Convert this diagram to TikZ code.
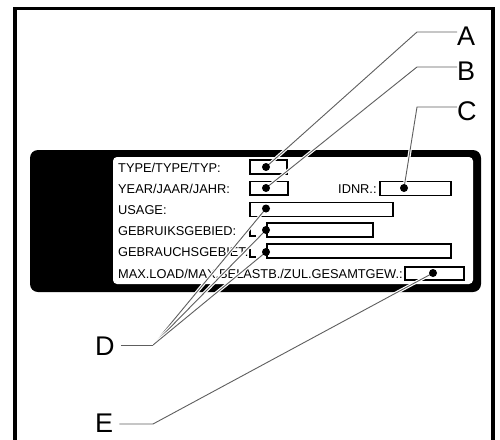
\documentclass[tikz,border=0pt]{standalone}
\usepackage{fontspec}
\setmainfont{Liberation Sans}
\usepackage{xcolor}
\definecolor{cInk}{HTML}{000000}
\definecolor{cLead}{HTML}{5E5E5E}
\usetikzlibrary{positioning,calc}
\tikzset{
  frame-line/.style={draw=cInk,line width=3.5pt},
  plate-outer/.style={fill=cInk,rounded corners=8pt},
  plate-inner/.style={fill=white,rounded corners=4pt},
  plate-text/.style={anchor=base west,inner sep=0pt,
    font=\fontsize{12.8}{14}\selectfont},
  field-box/.style={draw=cInk,line width=1.1pt},
  field-dot/.style={circle,fill=cInk,inner sep=0pt,minimum size=8pt},
  % leader lines carry a white halo, as on the print
  leader/.style={draw=cLead,line width=0.9pt,
    preaction={draw=white,line width=3.2pt}},
  callout/.style={anchor=base west,inner sep=0pt,
    font=\fontsize{27}{30}\selectfont},
}

\begin{document}
\begin{tikzpicture}[x=1pt,y=-1pt]
  \useasboundingbox (0,0) rectangle (500,439);
  \draw[frame-line] (15,445) -- (15,8.5) -- (493,8.5) -- (493,445);

  % type plate
  \fill[plate-outer] (30,150) rectangle (481,292);
  \fill[plate-inner] (113,157) rectangle (473,284);

  \node[plate-text] (tType)     at (118,172.5) {TYPE/TYPE/TYP:};
  \node[plate-text] (tYear)     at (118,193.5) {YEAR/JAAR/JAHR:};
  \node[plate-text] (tId)       at (338,193.5) {IDNR.:};
  \node[plate-text] (tUsage)    at (118,214.5) {USAGE:};
  \node[plate-text] (tGebruik)  at (118,235.5) {GEBRUIKSGEBIED:};
  \node[plate-text] (tGebrauch) at (118,256.5) {GEBRAUCHSGEBIET:};
  \node[plate-text] (tLoad)     at (118,278)   {MAX.LOAD/MAX.BELASTB./ZUL.GESAMTGEW.:};

  \draw[field-box] (250,160) rectangle (287,174);
  \draw[field-box] (250,181.5) rectangle (288,195);
  \draw[field-box] (380,181.5) rectangle (451,195.5);
  \draw[field-box] (250,202.5) rectangle (393,216.5);
  \draw[field-box] (267,223) rectangle (373,237);
  \draw[field-box] (250,228) -- (250,236) -- (256,236);
  \draw[field-box] (267,244) rectangle (451,258);
  \draw[field-box] (250,249) -- (250,257) -- (256,257);
  \draw[field-box] (405,267) rectangle (464,280);

  % call-out letters
  \node[callout] (labA) at (457,45)  {A};
  \node[callout] (labB) at (457,80)  {B};
  \node[callout] (labC) at (457,120) {C};
  \node[callout] (labD) at (95,355)  {D};
  \node[callout] (labE) at (95,432)  {E};

  \coordinate (kneeA) at (417,32);
  \coordinate (kneeB) at (417,67);
  \coordinate (kneeC) at (417,107);
  \coordinate (kneeD) at (153,345);
  \coordinate (kneeE) at (153,424);

  \coordinate (dType)     at (266,167);
  \coordinate (dYear)     at (266,188);
  \coordinate (dId)       at (404,188);
  \coordinate (dUsage)    at (266,208.5);
  \coordinate (dGebruik)  at (266,230);
  \coordinate (dGebrauch) at (266,252);
  \coordinate (dLoad)     at (433,273);

  \draw[leader] (dType) -- (kneeA) -- (kneeA -| labA.west);
  \draw[leader] (dYear) -- (kneeB) -- (kneeB -| labB.west);
  \draw[leader] (dId) -- (kneeC) -- (kneeC -| labC.west);
  \draw[leader] (dUsage) -- (kneeD);
  \draw[leader] (dGebruik) -- (kneeD);
  \draw[leader] (dGebrauch) -- (kneeD);
  \draw[leader] (labD.east |- kneeD) ++(6,0) -- (kneeD);
  \draw[leader] (dLoad) -- (kneeE) -- ($(labE.east |- kneeE)+(6,0)$);

  % dots on the fields
  \foreach \d in {dType,dYear,dId,dUsage,dGebruik,dGebrauch,dLoad}
    \node[field-dot] (dot-\d) at (\d) {};
\end{tikzpicture}
\end{document}
